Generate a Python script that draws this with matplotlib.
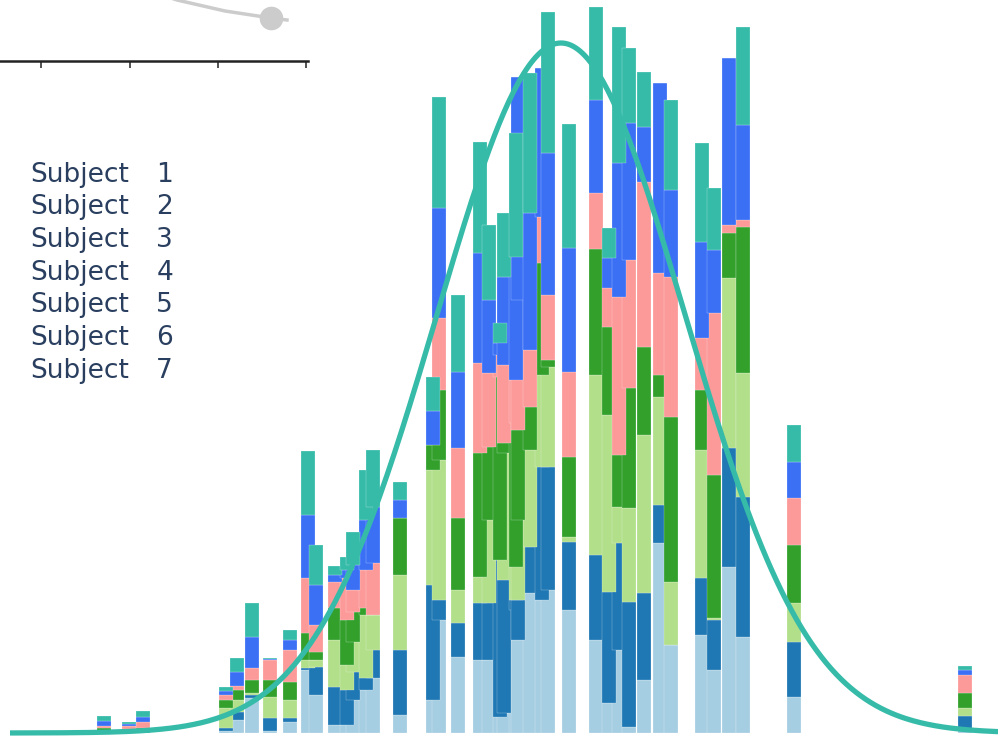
import matplotlib
matplotlib.use("Agg")
import matplotlib.pyplot as plt
import numpy as np

# bar centres (score units) and per-subject stacked counts
centers = [10.4, 12.9, 14.3, 22.6, 23.7, 25.2, 27.0, 29.0, 30.8, 31.6,
           33.5, 34.7, 35.3, 36.6, 37.3, 40.0, 43.3, 43.9, 45.8, 48.0,
           48.9, 50.0, 50.4, 51.6, 51.8, 53.0, 54.2, 54.8, 56.9, 59.6,
           60.9, 61.9, 62.9, 64.4, 66.0, 67.1, 70.2, 71.4, 72.9, 74.3,
           79.4, 96.5]

subject_1 = [0, 1, 0, 2, 13, 35, 2, 11, 63, 38, 8, 8, 33, 43, 55, 18, 33, 113, 76, 73,
             73, 16, 20, 123, 93, 140, 133, 143, 123, 93, 30, 83, 6, 53, 190, 88, 98, 63, 166, 96,
             36, 3]
subject_2 = [1, 1, 1, 3, 8, 3, 13, 4, 2, 28, 38, 35, 28, 12, 28, 65, 115, 20, 34, 57,
             57, 157, 133, 10, 40, 46, 133, 123, 68, 85, 111, 107, 125, 87, 38, 0, 57, 50, 119, 140,
             55, 14]
subject_3 = [1, 1, 2, 20, 12, 2, 21, 18, 8, 7, 47, 25, 30, 63, 35, 75, 115, 140, 33, 26,
             83, 0, 127, 33, 80, 97, 92, 100, 5, 180, 177, 36, 94, 158, 108, 63, 128, 2, 170, 124,
             39, 8]
subject_4 = [3, 1, 2, 8, 10, 13, 17, 18, 27, 8, 32, 45, 30, 7, 0, 57, 25, 70, 72, 124,
             73, 183, 10, 144, 90, 43, 112, 7, 80, 126, 88, 52, 120, 88, 22, 165, 60, 143, 45, 146,
             58, 15]
subject_5 = [2, 3, 6, 5, 4, 12, 20, 32, 55, 27, 26, 42, 22, 38, 52, 0, 0, 72, 70, 90,
             74, 22, 78, 43, 130, 57, 46, 65, 85, 56, 39, 158, 128, 165, 102, 140, 52, 162, 8, 7,
             47, 18]
subject_6 = [5, 2, 5, 4, 14, 31, 1, 10, 63, 40, 7, 8, 25, 50, 56, 18, 34, 110, 76, 110,
             73, 12, 88, 123, 223, 137, 149, 142, 124, 93, 30, 134, 137, 55, 190, 87, 96, 63, 167, 95,
             36, 5]
subject_7 = [5, 2, 6, 4, 14, 34, 1, 10, 64, 40, 9, 13, 33, 50, 57, 18, 34, 111, 77, 111,
             75, 20, 64, 124, 0, 140, 0, 141, 124, 93, 30, 136, 75, 55, 0, 90, 99, 62, 0, 98,
             37, 4]

subjects = ["Subject  1", "Subject  2", "Subject  3", "Subject  4",
            "Subject  5", "Subject  6", "Subject  7"]
series = [subject_1, subject_2, subject_3, subject_4, subject_5, subject_6, subject_7]
colors = ["#a6cee3", "#1f78b4", "#b2df8a", "#33a02c", "#fb9a99", "#3b70f5", "#36bba9"]

# fitted normal curve parameters
fit_mean, fit_sd, fit_peak = 56.1, 12.4, 690

# small line chart peeking in at the top
inset_x = [120, 177, 225, 271, 287]
inset_y = [80, 61, 50, 43, 41]
inset_ticks = [41, 130, 218, 306]

fig = plt.figure(figsize=(9.98, 7.37), dpi=100)
ax = fig.add_axes([0, 0, 1, 1])

bottom = np.zeros(len(centers))
for name, vals, col in zip(subjects, series, colors):
    vals = np.array(vals, dtype=float)
    ax.bar(centers, vals, width=1.4, bottom=bottom, color=col,
           edgecolor="white", linewidth=0.15, label=name)
    bottom += vals

xs = np.linspace(1.0, 100, 400)
ax.plot(xs, fit_peak * np.exp(-0.5 * ((xs - fit_mean) / fit_sd) ** 2),
        color="#36bba9", linewidth=3.8, solid_capstyle="butt")

ax.set_xlim(0, 99.8)
ax.set_ylim(-4, 733)
ax.axis("off")

# legend as plain text rows
for i, name in enumerate(subjects):
    word, num = name.split()
    yb = 1 - (181.5 + 32.7 * i) / 737
    fig.text(30 / 998, yb, word, fontsize=19, family="DejaVu Sans",
             color="#2a3f5f", va="baseline", ha="left")
    fig.text(173 / 998, yb, num, fontsize=19, family="DejaVu Sans",
             color="#2a3f5f", va="baseline", ha="right")

# inset axes (cut off by top of figure)
ins = fig.add_axes([0, (737 - 61) / 737, 308 / 998, 161 / 737])
ins.plot(inset_x, inset_y, color="#cccccc", linewidth=2.5)
ins.plot(inset_x[3], inset_y[3], "o", color="#cccccc", markersize=16)
ins.set_xlim(0, 308)
ins.set_ylim(0, 161)
ins.set_xticks(inset_ticks)
ins.set_xticklabels([])
ins.set_yticks([])
ins.tick_params(axis="x", length=5, width=1.2, color="#333333")
for s in ["top", "left", "right"]:
    ins.spines[s].set_visible(False)
ins.spines["bottom"].set_linewidth(1.8)
ins.spines["bottom"].set_color("#222222")
ins.patch.set_alpha(0)

fig.savefig("out.png", dpi=100)
